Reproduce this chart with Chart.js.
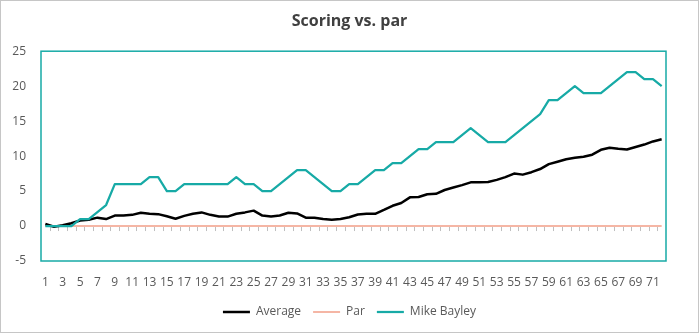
<!DOCTYPE html>
<html>
<head>
<meta charset="utf-8">
<script src="https://cdn.jsdelivr.net/npm/chart.js@4.4.0/dist/chart.umd.min.js"></script>
<style>
  html, body { margin: 0; padding: 0; background: #fff; }
  #wrap { width: 699px; height: 333px; box-sizing: border-box; border: 1px solid #c6c6c6; background: #fff; }
  canvas { display: block; }
</style>
</head>
<body>
<div id="wrap"><canvas id="grafico" width="697" height="331"></canvas></div>
<script>
// Buracos (eixo x)
const holes = [
  "1", "2", "3", "4", "5", "6", "7", "8", "9", "10", "11", "12",
  "13", "14", "15", "16", "17", "18", "19", "20", "21", "22", "23", "24",
  "25", "26", "27", "28", "29", "30", "31", "32", "33", "34", "35", "36",
  "37", "38", "39", "40", "41", "42", "43", "44", "45", "46", "47", "48",
  "49", "50", "51", "52", "53", "54", "55", "56", "57", "58", "59", "60",
  "61", "62", "63", "64", "65", "66", "67", "68", "69", "70", "71", "72",
];

// Média acumulada em relação ao par
const average = [
  0.3, -0.1, 0.1, 0.4, 0.8, 0.9, 1.2, 1.0, 1.5, 1.5, 1.6, 1.9,
  1.75, 1.7, 1.4, 1.05, 1.45, 1.75, 1.95, 1.6, 1.35, 1.35, 1.75, 1.95,
  2.2, 1.5, 1.35, 1.5, 1.9, 1.8, 1.2, 1.2, 1.0, 0.9, 1.0, 1.25,
  1.65, 1.75, 1.75, 2.3, 2.9, 3.3, 4.1, 4.15, 4.55, 4.6, 5.15, 5.5,
  5.85, 6.25, 6.25, 6.3, 6.6, 7.0, 7.5, 7.35, 7.7, 8.15, 8.85, 9.2,
  9.55, 9.75, 9.9, 10.2, 10.9, 11.2, 11.05, 10.95, 11.3, 11.65, 12.1, 12.4,
];

// Par (sempre zero)
const par = [
  0, 0, 0, 0, 0, 0, 0, 0, 0, 0, 0, 0,
  0, 0, 0, 0, 0, 0, 0, 0, 0, 0, 0, 0,
  0, 0, 0, 0, 0, 0, 0, 0, 0, 0, 0, 0,
  0, 0, 0, 0, 0, 0, 0, 0, 0, 0, 0, 0,
  0, 0, 0, 0, 0, 0, 0, 0, 0, 0, 0, 0,
  0, 0, 0, 0, 0, 0, 0, 0, 0, 0, 0, 0,
];

// Mike Bayley acumulado
const mikeBayley = [
  0, 0, 0, 0, 1, 1, 2, 3, 6, 6, 6, 6,
  7, 7, 5, 5, 6, 6, 6, 6, 6, 6, 7, 6,
  6, 5, 5, 6, 7, 8, 8, 7, 6, 5, 5, 6,
  6, 7, 8, 8, 9, 9, 10, 11, 11, 12, 12, 12,
  13, 14, 13, 12, 12, 12, 13, 14, 15, 16, 18, 18,
  19, 20, 19, 19, 19, 20, 21, 22, 22, 21, 21, 20,
];

const yMin = -5;
const yMax = 25;
const yStep = 5;

const teal = "#17aaa6";
const salmon = "#f5b6a5";
const textColor = "#595959";

Chart.defaults.font.family = "'Open Sans', 'Noto Sans', sans-serif";

// Moldura da área do gráfico e pequenos traços do eixo x na linha do zero
const moldura = {
  id: "moldura",
  beforeDatasetsDraw(chart) {
    const { ctx, chartArea: a, scales: { x, y } } = chart;
    const y0 = y.getPixelForValue(0);
    const passo = a.width / holes.length;
    ctx.save();
    ctx.strokeStyle = "#bfbfbf";
    ctx.lineWidth = 1;
    ctx.beginPath();
    for (let i = 1; i < holes.length; i++) {
      const px = Math.round(a.left + i * passo) + 0.5;
      ctx.moveTo(px, y0);
      ctx.lineTo(px, y0 + 5);
    }
    ctx.stroke();
    ctx.strokeStyle = teal;
    ctx.lineWidth = 1.5;
    ctx.strokeRect(a.left, a.top, a.width, a.height);
    ctx.restore();
  },
};

new Chart(document.getElementById("grafico"), {
  type: "line",
  data: {
    labels: holes,
    datasets: [
      {
        label: "Average",
        data: average,
        borderColor: "#000000",
        backgroundColor: "#000000",
        borderWidth: 2.5,
        order: 1,
      },
      {
        label: "Par",
        data: par,
        borderColor: salmon,
        backgroundColor: salmon,
        borderWidth: 2,
        order: 2,
      },
      {
        label: "Mike Bayley",
        data: mikeBayley,
        borderColor: teal,
        backgroundColor: teal,
        borderWidth: 2.25,
        order: 0,
      },
    ],
  },
  options: {
    responsive: false,
    animation: false,
    elements: {
      point: { radius: 0 },
      line: { tension: 0, borderJoinStyle: "round" },
    },
    layout: {
      padding: { left: 0, right: 0, top: 0, bottom: 4 },
    },
    scales: {
      x: {
        offset: true,
        grid: { display: false, drawTicks: false },
        border: { display: false },
        afterFit: (scale) => {
          scale.height = 33;
        },
        ticks: {
          autoSkip: false,
          maxRotation: 0,
          padding: 14,
          color: textColor,
          font: { size: 12 },
          callback: (v, i) => (i % 2 === 0 ? holes[i] : ""),
        },
      },
      y: {
        min: yMin,
        max: yMax,
        grid: { display: false, drawTicks: false },
        border: { display: false },
        afterFit: (scale) => {
          scale.width = 40;
        },
        ticks: {
          stepSize: yStep,
          padding: 15,
          color: textColor,
          font: { size: 12 },
        },
      },
      // eixo vazio à direita, só para a margem
      margemDireita: {
        position: "right",
        grid: { display: false, drawTicks: false },
        border: { display: false },
        ticks: { display: false },
        afterFit: (scale) => {
          scale.width = 32;
        },
      },
    },
    plugins: {
      title: {
        display: true,
        text: "Scoring vs. par",
        color: "#404040",
        font: { size: 16, weight: "bold" },
        padding: { top: 11, bottom: 20 },
      },
      legend: {
        position: "bottom",
        labels: {
          usePointStyle: true,
          pointStyle: "line",
          pointStyleWidth: 27,
          padding: 12,
          color: textColor,
          font: { size: 12 },
          sort: (a, b) => a.datasetIndex - b.datasetIndex,
        },
      },
      tooltip: { enabled: false },
    },
  },
  plugins: [moldura],
});
</script>
</body>
</html>
